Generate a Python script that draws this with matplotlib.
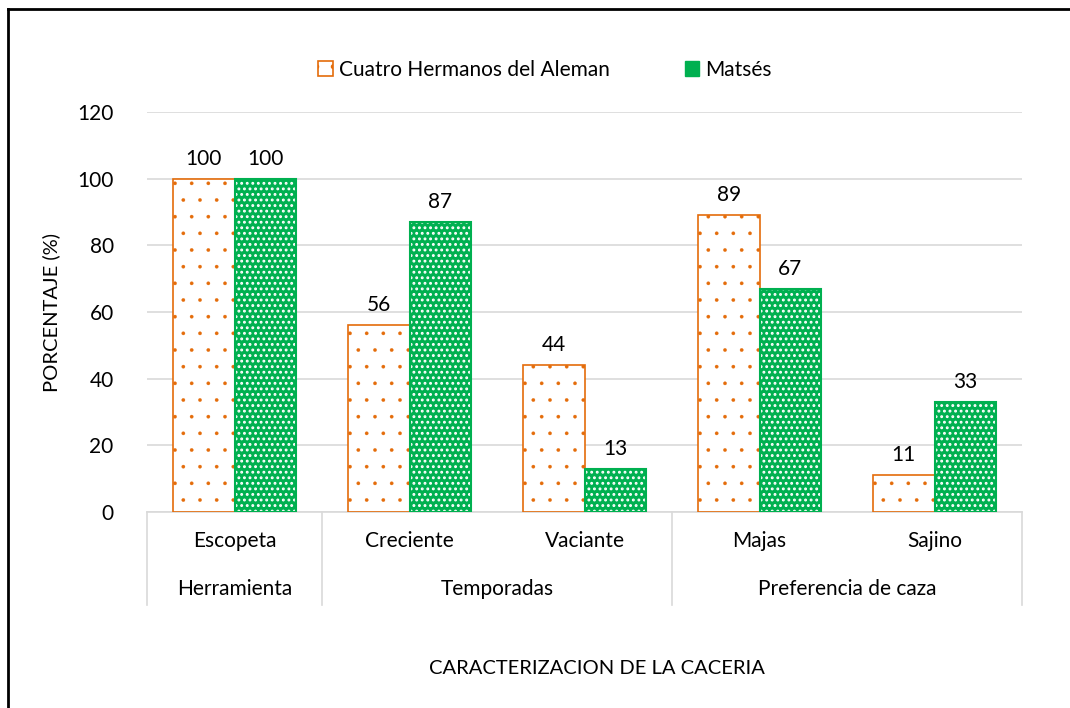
import matplotlib

matplotlib.use("Agg")
import matplotlib.pyplot as plt
from matplotlib.patches import Patch
from matplotlib.lines import Line2D

plt.rcParams["font.family"] = ["Lato", "DejaVu Sans"]

categories = ["Escopeta", "Creciente", "Vaciante", "Majas", "Sajino"]
groups = ["Herramienta", "Temporadas", "Preferencia de caza"]
group_spans = [(0, 0), (1, 2), (3, 4)]
cuatro = [100, 56, 44, 89, 11]
matses = [100, 87, 13, 67, 33]
series_names = ["Cuatro Hermanos del Aleman", "Matsés"]
yticks = [0, 20, 40, 60, 80, 100, 120]

ORANGE = "#E46C0A"
GREEN = "#00B050"
GRID = "#D9D9D9"
FS = 15

fig = plt.figure(figsize=(10.7, 7.08), dpi=100)
ax = fig.add_axes([147 / 1070, 1 - 512 / 708, 875 / 1070, 400 / 708])

x = list(range(len(categories)))
w = 0.35
xo = [i - w / 2 for i in x]
xg = [i + w / 2 for i in x]

# orange: white fill, sparse small orange dots and outline
plt.rcParams["hatch.linewidth"] = 0.2
ax.bar(xo, cuatro, w, color="white", edgecolor=ORANGE, hatch=".", linewidth=0, zorder=2)
leg_orange = Patch(facecolor="white", edgecolor=ORANGE, hatch=".", linewidth=1.2)
ax.bar(xo, cuatro, w, facecolor="none", edgecolor=ORANGE, linewidth=1.2, zorder=3)
# green: green fill, dense white dots
plt.rcParams["hatch.linewidth"] = 1.3
ax.bar(xg, matses, w, color=GREEN, edgecolor="white", hatch="...", linewidth=0, zorder=2)
ax.bar(xg, matses, w, facecolor="none", edgecolor=GREEN, linewidth=1.5, zorder=3)

for xi, v in zip(xo, cuatro):
    ax.text(xi, v + 3, str(v), ha="center", va="bottom", fontsize=FS)
for xi, v in zip(xg, matses):
    ax.text(xi, v + 3, str(v), ha="center", va="bottom", fontsize=FS)

ax.set_xlim(-0.5, len(categories) - 0.5)
ax.set_ylim(0, 120)
ax.set_yticks(yticks)
ax.tick_params(axis="y", length=0, labelsize=FS, pad=24)
ax.set_xticks([])
ax.yaxis.grid(True, color=GRID, linewidth=1.2, zorder=0)
ax.set_axisbelow(True)
for s in ["top", "right", "left"]:
    ax.spines[s].set_visible(False)
ax.spines["bottom"].set_color(GRID)
ax.spines["bottom"].set_linewidth(1.2)

# two-level category axis
trans = ax.get_xaxis_transform()
sep_bottom = -93 / 400
for xs in [-0.5, 0.5, 2.5, 4.5]:
    ax.add_line(Line2D([xs, xs], [0, sep_bottom], transform=trans, color=GRID,
                       linewidth=1.2, clip_on=False))
for i, c in enumerate(categories):
    ax.text(i, -29 / 400, c, transform=trans, ha="center", va="center", fontsize=FS)
for g, (a, b) in zip(groups, group_spans):
    ax.text((a + b) / 2, -77 / 400, g, transform=trans, ha="center", va="center", fontsize=FS)

ax.set_ylabel("PORCENTAJE (%)", fontsize=FS - 0.5, labelpad=12)
fig.text(597 / 1070, 1 - 668 / 708, "CARACTERIZACION DE LA CACERIA", ha="center", va="center",
         fontsize=FS - 0.5)

handles = [
    leg_orange,
    Patch(facecolor=GREEN, edgecolor=GREEN, linewidth=1),
]
fig.legend(handles, series_names, loc="center", bbox_to_anchor=(545 / 1070, 1 - 70 / 708),
           ncol=2, frameon=False, fontsize=FS, handlelength=0.7, handleheight=0.7,
           handletextpad=0.3, columnspacing=3.6)

# outer frame (only left and top visible)
fig.add_artist(Line2D([8 / 1070, 8 / 1070], [0, 1 - 9 / 708], transform=fig.transFigure,
                      color="black", linewidth=2))
fig.add_artist(Line2D([8 / 1070, 1], [1 - 9 / 708, 1 - 9 / 708], transform=fig.transFigure,
                      color="black", linewidth=2))

fig.savefig("out.png", dpi=100)
